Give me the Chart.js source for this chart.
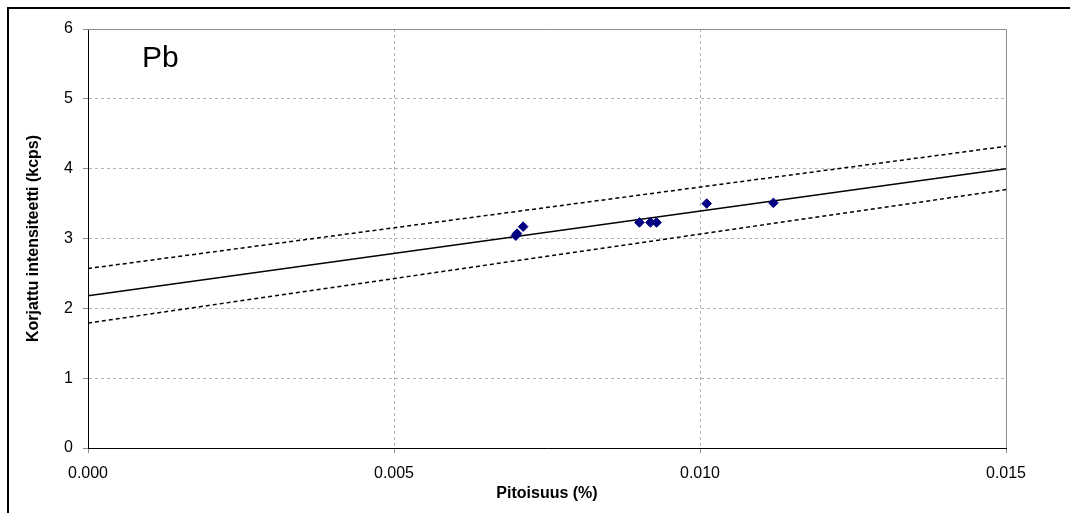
<!DOCTYPE html>
<html>
<head>
<meta charset="utf-8">
<script src="https://cdn.jsdelivr.net/npm/chart.js@4.4.1/dist/chart.umd.min.js"></script>
<style>
  html, body { margin: 0; padding: 0; background: #fff; overflow: hidden; }
  #wrap { position: relative; width: 1070px; height: 513px; }
  #frame { position: absolute; left: 7px; top: 7px; width: 1100px; height: 600px; border: 2px solid #000; pointer-events: none; }
  canvas { position: absolute; left: 0; top: 0; }
</style>
</head>
<body>
<div id="wrap">
  <canvas id="c" width="1070" height="513"></canvas>
  <div id="frame"></div>
</div>
<script>
// Measured samples: concentration (%) and corrected intensity (kcps)
const pitoisuus     = [0.00699, 0.00701, 0.00711, 0.00901, 0.00919, 0.00929, 0.01011, 0.01120];
const intensiteetti = [3.04,    3.07,    3.17,    3.23,    3.23,    3.23,    3.50,    3.51];

// Calibration line and its confidence limits (end points)
const lineX  = [0, 0.015];
const fitY   = [2.18, 4.00];
const upperY = [2.57, 4.32];
const lowerY = [1.79, 3.70];

// Axis ticks
const xTicks = [0, 0.005, 0.010, 0.015];
const yTicks = [0, 1, 2, 3, 4, 5, 6];

const FONT = "'Liberation Sans', Arial, sans-serif";

const pairs = (xs, ys) => xs.map((x, i) => ({ x: x, y: ys[i] }));

// Solid grey frame on the top and right edges of the plot area
const plotFrame = {
  id: 'plotFrame',
  afterDatasetsDraw(chart) {
    const { ctx, chartArea: a } = chart;
    ctx.save();
    ctx.strokeStyle = '#8c8c8c';
    ctx.lineWidth = 1;
    ctx.beginPath();
    ctx.moveTo(a.left, a.top + 0.5);
    ctx.lineTo(a.right + 0.5, a.top + 0.5);
    ctx.lineTo(a.right + 0.5, a.bottom);
    ctx.stroke();
    ctx.restore();
  }
};

// Element label in the upper-left corner of the plot
const elementLabel = {
  id: 'elementLabel',
  afterDraw(chart) {
    const { ctx, chartArea: a } = chart;
    ctx.save();
    ctx.fillStyle = '#000';
    ctx.font = '30px ' + FONT;
    ctx.textAlign = 'left';
    ctx.textBaseline = 'alphabetic';
    ctx.fillText('Pb', a.left + 54, a.top + 38);
    ctx.restore();
  }
};

new Chart(document.getElementById('c'), {
  type: 'scatter',
  data: {
    datasets: [
      {
        label: 'Pb',
        data: pairs(pitoisuus, intensiteetti),
        pointStyle: 'rectRot',
        pointRadius: 4.8,
        backgroundColor: '#000080',
        borderColor: '#000080',
        borderWidth: 1,
        showLine: false
      },
      {
        label: 'fit',
        data: pairs(lineX, fitY),
        showLine: true,
        pointRadius: 0,
        borderColor: '#000',
        borderWidth: 1.5,
        fill: false
      },
      {
        label: 'upper',
        data: pairs(lineX, upperY),
        showLine: true,
        pointRadius: 0,
        borderColor: '#000',
        borderWidth: 1.5,
        borderDash: [4, 3],
        fill: false
      },
      {
        label: 'lower',
        data: pairs(lineX, lowerY),
        showLine: true,
        pointRadius: 0,
        borderColor: '#000',
        borderWidth: 1.5,
        borderDash: [4, 3],
        fill: false
      }
    ]
  },
  options: {
    responsive: false,
    animation: false,
    devicePixelRatio: 1,
    layout: { padding: { left: 0, top: 29, right: 64, bottom: 0 } },
    plugins: {
      legend: { display: false },
      tooltip: { enabled: false }
    },
    scales: {
      x: {
        type: 'linear',
        min: xTicks[0],
        max: xTicks[xTicks.length - 1],
        afterBuildTicks(scale) { scale.ticks = xTicks.map(v => ({ value: v })); },
        afterFit(scale) { scale.height = 65; },
        ticks: {
          color: '#000',
          font: { family: FONT, size: 16 },
          padding: 11,
          maxRotation: 0,
          callback: v => Number(v).toFixed(3)
        },
        grid: {
          color: ctx => (ctx.tick && ctx.tick.value === xTicks[xTicks.length - 1]) ? 'rgba(0,0,0,0)' : '#b4b4b4',
          tickColor: '#8c8c8c',
          tickLength: 5,
          lineWidth: 1
        },
        border: { color: '#000', width: 1, dash: [3, 3] },
        title: {
          display: true,
          text: 'Pitoisuus (%)',
          color: '#000',
          font: { family: FONT, size: 16, weight: 'bold' },
          padding: { top: 0, bottom: 10 }
        }
      },
      y: {
        type: 'linear',
        min: yTicks[0],
        max: yTicks[yTicks.length - 1],
        afterBuildTicks(scale) { scale.ticks = yTicks.map(v => ({ value: v })); },
        afterFit(scale) { scale.width = 88; },
        ticks: {
          color: '#000',
          font: { family: FONT, size: 16 },
          padding: 10,
          callback: v => String(v)
        },
        grid: {
          color: ctx => (ctx.tick && ctx.tick.value === yTicks[yTicks.length - 1]) ? 'rgba(0,0,0,0)' : '#b4b4b4',
          tickColor: '#8c8c8c',
          tickLength: 5,
          lineWidth: 1
        },
        border: { color: '#000', width: 1, dash: [3, 3] },
        title: {
          display: true,
          text: 'Korjattu intensiteetti (kcps)',
          color: '#000',
          font: { family: FONT, size: 16, weight: 'bold' },
          padding: { top: 24, bottom: 0 }
        }
      }
    }
  },
  plugins: [plotFrame, elementLabel]
});
</script>
</body>
</html>
